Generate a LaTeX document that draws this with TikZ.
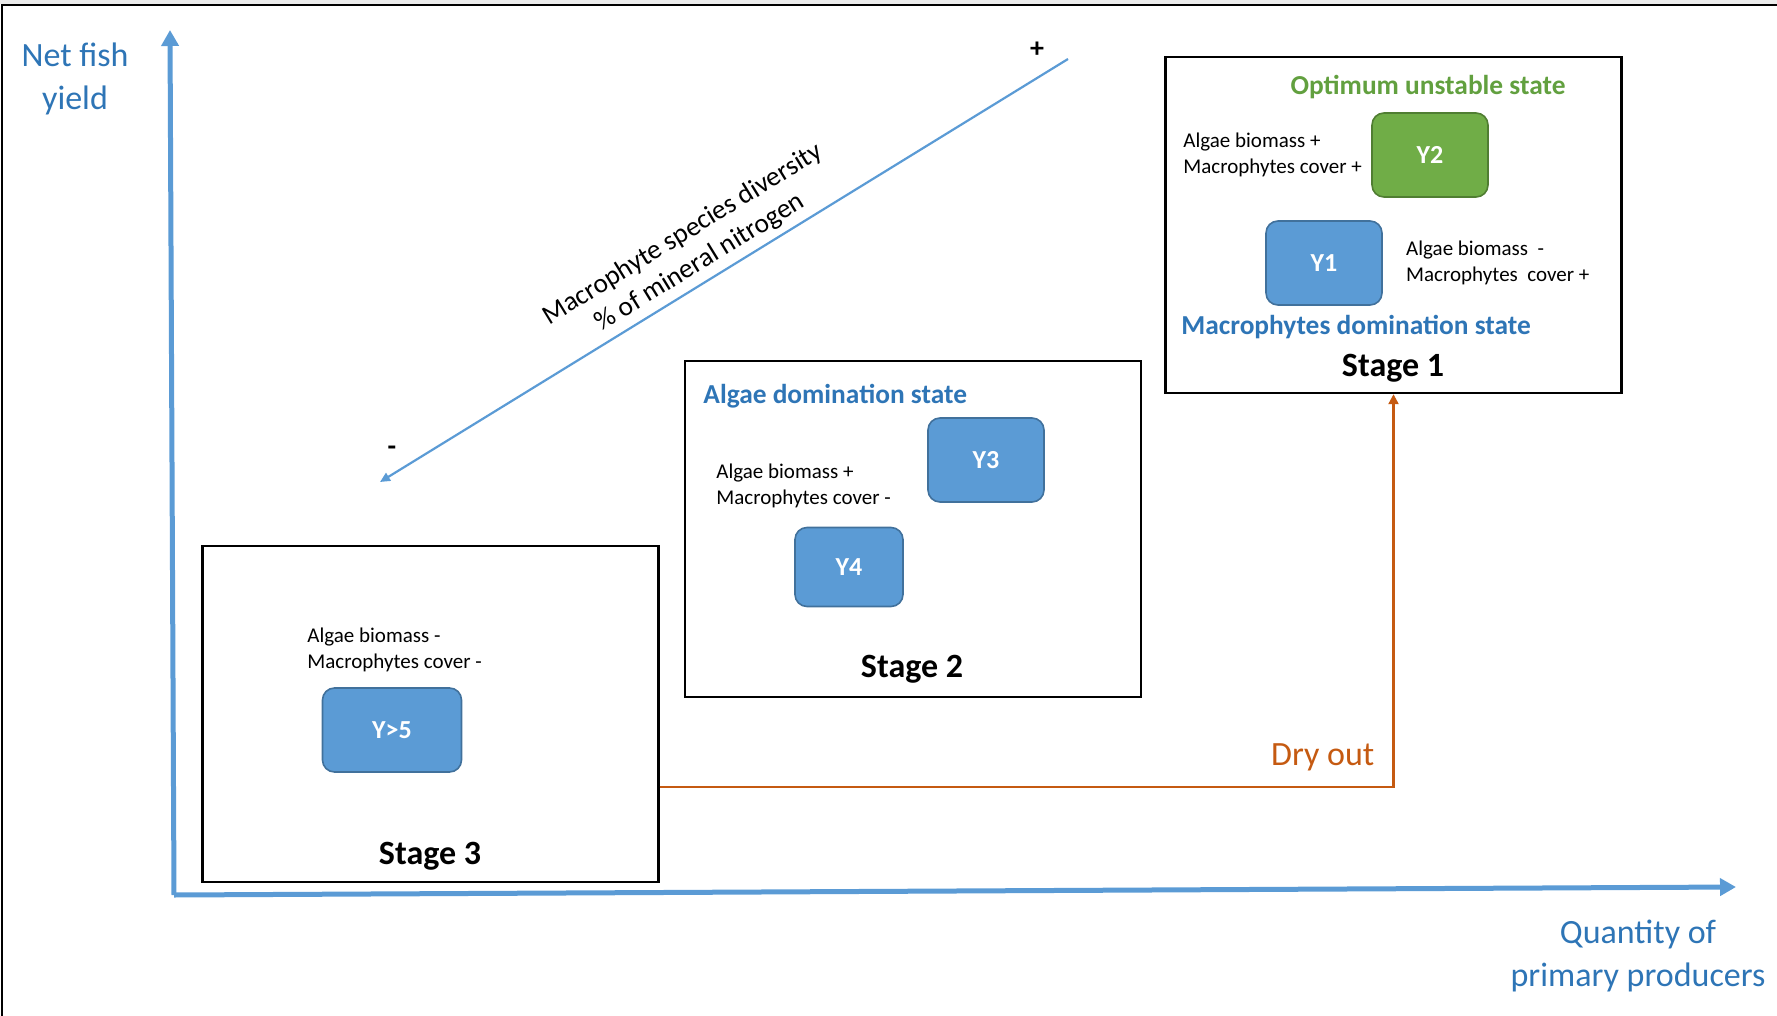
\documentclass[tikz,border=0pt]{standalone}
\usepackage{fontspec}
\setmainfont{Carlito}
\usetikzlibrary{positioning, arrows.meta}
\definecolor{AxisBlue}{HTML}{5B9BD5}
\definecolor{TitleBlue}{HTML}{2E75B6}
\definecolor{TitleGreen}{HTML}{62A03F}
\definecolor{BoxBlue}{HTML}{5B9BD5}
\definecolor{BoxBlueEdge}{HTML}{41719C}
\definecolor{BoxGreen}{HTML}{70AD47}
\definecolor{BoxGreenEdge}{HTML}{507E32}
\definecolor{DryOrange}{HTML}{C55A11}
\tikzset{StageBox/.style={%
    shape=rectangle,%
    draw=black,%
    line width=1.2pt,%
    minimum width=228pt,%
    minimum height=168pt,%
}}
\tikzset{YieldBox/.style={%
    shape=rectangle,%
    rounded corners=6pt,%
    draw=BoxBlueEdge,%
    fill=BoxBlue,%
    line width=0.8pt,%
    minimum width=58pt,%
    minimum height=42pt,%
    text=white,%
    font=\fontsize{13}{15}\selectfont\bfseries,%
}}
\tikzset{GreenYieldBox/.style={%
    YieldBox,%
    draw=BoxGreenEdge,%
    fill=BoxGreen,%
}}
\tikzset{StageLabel/.style={%
    inner sep=0pt,%
    font=\fontsize{17}{20}\selectfont\bfseries,%
}}
\tikzset{StateLabel/.style={%
    inner sep=0pt,%
    text=TitleBlue,%
    font=\fontsize{13.7}{17}\selectfont\bfseries,%
}}
\tikzset{NoteText/.style={%
    inner sep=0pt,%
    align=left,%
    font=\fontsize{10.5}{13}\selectfont,%
}}
\tikzset{AxisLabel/.style={%
    align=center,%
    text=TitleBlue,%
    font=\fontsize{17}{21.5}\selectfont,%
}}
\tikzset{SignLabel/.style={%
    inner sep=0pt,%
    font=\fontsize{14}{16}\selectfont\bfseries,%
}}
\tikzset{AxisEdge/.style={%
    -{Triangle[width=8.5pt,length=8pt]},%
    line width=2.5pt,%
    draw=AxisBlue,%
}}
\tikzset{GradientEdge/.style={%
    {Triangle[width=4.5pt,length=5pt]}-,%
    line width=1.1pt,%
    draw=AxisBlue,%
}}
\tikzset{DryEdge/.style={%
    -{Triangle[width=5pt,length=5pt]},%
    line width=1.1pt,%
    draw=DryOrange,%
}}

\begin{document}
\begin{tikzpicture}[x=0.5pt, y=-0.5pt]
    \useasboundingbox (0,0) rectangle (1777,1016);
    \fill[black!8] (0,0) rectangle (1777,4);
    \draw[line width=1pt] (2,1016) -- (2,5) -- (1777,5);

    % axes
    \coordinate (origin) at (174,895);
    \coordinate (yTop) at (170,30);
    \coordinate (xEnd) at (1736,887);
    \draw[AxisEdge] (origin) -- (yTop);
    \draw[AxisEdge] (origin) -- (xEnd);
    \node[AxisLabel] (yLabel) at (75,79) {Net fish\\yield};
    \node[AxisLabel] (xLabel) at (1638,956) {Quantity of\\primary producers};

    % gradient arrow
    \coordinate (divLow) at (380,482);
    \coordinate (divHigh) at (1068,59);
    \path (divLow) edge[GradientEdge] node[sloped, above, pos=0.48, align=center, inner sep=3pt, font=\fontsize{13.7}{16.5}\selectfont] (divText) {Macrophyte species diversity\\\% of mineral nitrogen} (divHigh);
    \node[SignLabel] (plus) at (1037,50) {+};
    \node[SignLabel] (minus) at (392,451) {-};

    % stages
    \node[StageBox] (st3) at (430.5,714) {};
    \node[StageBox] (st2) at (913,529) {};
    \node[StageBox] (st1) at (1393.5,225) {};

    \node[StateLabel, text=TitleGreen] (optTitle) at (1428,87) {Optimum unstable state};
    \node[GreenYieldBox] (y2) at (1430,155) {Y2};
    \node[NoteText, left=4.5pt of y2] (noteY2) {Algae biomass +\\Macrophytes cover +};
    \node[YieldBox] (y1) at (1324,263) {Y1};
    \node[NoteText, right=11.5pt of y1] (noteY1) {Algae biomass \ -\\Macrophytes \ cover +};
    \node[StateLabel, anchor=west] (macroTitle) at (1181,327) {Macrophytes domination state};
    \node[StageLabel] (st1Label) at (1393,368) {Stage 1};

    \node[StateLabel, anchor=west] (algTitle) at (703,396) {Algae domination state};
    \node[YieldBox] (y3) at (986,460) {Y3};
    \node[YieldBox, minimum width=54pt, minimum height=39.5pt] (y4) at (849,567) {Y4};
    \node[NoteText, anchor=west] (noteY3) at (716,486) {Algae biomass +\\Macrophytes cover -};
    \node[StageLabel] (st2Label) at (912,669) {Stage 2};

    \node[NoteText, anchor=west] (noteY5) at (307,650) {Algae biomass -\\Macrophytes cover -};
    \node[YieldBox, minimum width=69.5pt] (y5) at (392,730) {Y>5};
    \node[StageLabel] (st3Label) at (430,856) {Stage 3};

    % dry out
    \draw[DryEdge] ([yshift=-36.5pt]st3.east) -| node[pos=0.5, anchor=south east, inner sep=0pt, xshift=-9pt, yshift=7.5pt, text=DryOrange, font=\fontsize{17}{20}\selectfont] (dryLabel) {Dry out} (st1.south);
\end{tikzpicture}
\end{document}
